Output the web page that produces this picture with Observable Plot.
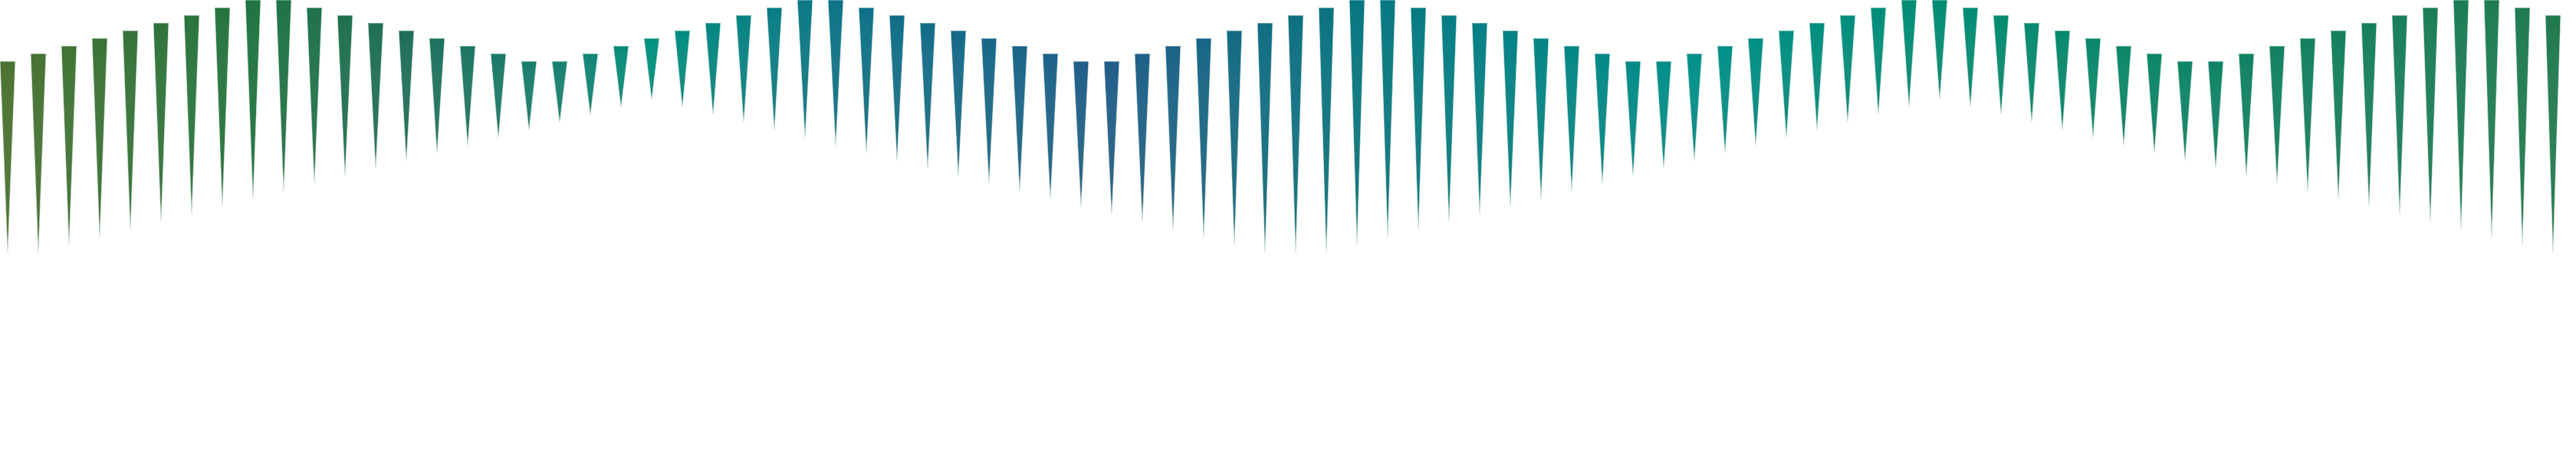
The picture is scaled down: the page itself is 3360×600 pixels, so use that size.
<!DOCTYPE html>
<html><head><meta charset="utf-8">
<script src="https://cdn.jsdelivr.net/npm/d3@7"></script>
<script src="https://cdn.jsdelivr.net/npm/@observablehq/plot@0.6"></script>
<style>body{margin:0;background:#fff}</style>
</head><body>
<div id="chart"></div>
<script>
// top edge of each spike (px from top) and spike tip depth (px from top)
const tops = [80,70,60,50,40,30,20,10,0,0,10,20,30,40,
  50,60,70,80,80,70,60,50,40,30,20,10,0,0,
  10,20,30,40,50,60,70,80,80,70,60,50,40,30,
  20,10,0,0,10,20,30,40,50,60,70,80,80,70,
  60,50,40,30,20,10,0,0,10,20,30,40,50,60,
  70,80,80,70,60,50,40,30,20,10,0,0,10,20];
const tips = [330,330,320,310,300,290,280,270,260,250,240,230,220,210,
  200,190,180,170,160,150,140,130,140,150,160,170,180,190,
  200,210,220,230,240,250,260,270,280,290,300,310,320,330,
  330,330,320,310,300,290,280,270,260,250,240,230,220,210,
  200,190,180,170,160,150,140,130,140,150,160,170,180,190,
  200,210,220,230,240,250,260,270,280,290,300,310,320,330];
const colorStops = [0,8,13,18,21,27,36,44,55,63,75,83];
const colorRange = ["#4b7230","#1f7440","#1f6e5a","#178070","#00907e","#0d7388","#215d88","#087680","#008f8a","#008c72","#138060","#217a4e"];

const rows = [];
tops.forEach((t, i) => {
  rows.push({i, x: i, y1: t, y2: t});
  rows.push({i, x: i + 0.25, y1: t, y2: tips[i]});
  rows.push({i, x: i + 0.5, y1: t, y2: t});
});

const chart = Plot.plot({
  width: 3360, height: 600,
  margin: 0,
  x: {domain: [0, 84], range: [0, 3360], axis: null},
  y: {domain: [0, 600], range: [0, 600], axis: null},
  color: {type: "linear", domain: colorStops, range: colorRange, interpolate: "rgb"},
  marks: [
    Plot.areaY(rows, {x: "x", y1: "y1", y2: "y2", z: "i", fill: "i", stroke: "#e8f3ee", strokeWidth: 0.8, strokeOpacity: 0.8, curve: "linear"}),
    Plot.areaY(rows, {x: "x", y1: "y1", y2: "y2", z: "i", fill: "url(#shade)", curve: "linear"})
  ]
});
const svg = d3.select(chart);
const defs = svg.insert("defs", ":first-child");
const g = defs.append("linearGradient").attr("id", "shade").attr("x1", 0).attr("y1", 0).attr("x2", 0).attr("y2", 1);
g.append("stop").attr("offset", "0%").attr("stop-color", "#ffffff").attr("stop-opacity", 0);
g.append("stop").attr("offset", "100%").attr("stop-color", "#506040").attr("stop-opacity", 0.18);
document.getElementById("chart").appendChild(chart);
</script>
</body></html>
